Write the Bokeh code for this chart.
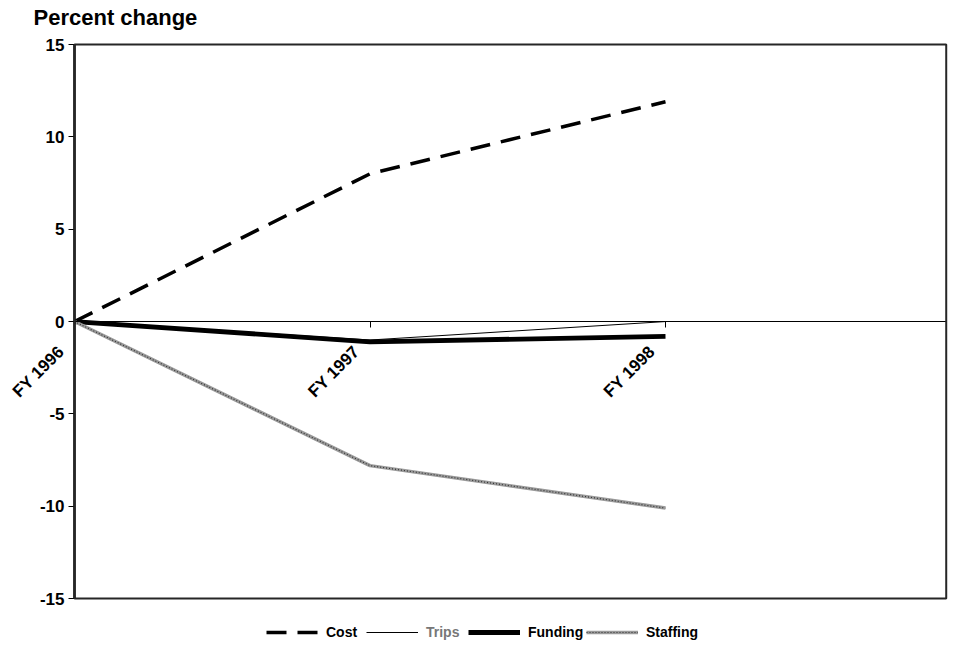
from math import pi
from bokeh.plotting import figure
from bokeh.models import (LinearAxis, FixedTicker, Range1d, Legend, LegendItem,
                          ColumnDataSource, BoxAnnotation)
from bokeh.embed import file_html
from bokeh.resources import INLINE

# ---- data ----
years = ["FY 1996", "FY 1997", "FY 1998"]
cost = [0.0, 8.0, 11.9]
trips = [0.0, -1.0, 0.0]
funding = [0.0, -1.1, -0.8]
staffing = [0.0, -7.8, -10.1]
y_ticks = [-15, -10, -5, 0, 5, 10, 15]

xs = list(range(len(years)))
src = ColumnDataSource(dict(x=xs, cost=cost, trips=trips, funding=funding, staffing=staffing))

FONT = "Liberation Sans"
W, H = 948, 642
TOP = 30
PXX = 295.5          # px per category
PXY = 18.47          # px per percent
X0 = 74              # px of first category from figure left
Y15 = 44             # px of +15 from figure top
x_start = -X0 / PXX
x_end = x_start + W / PXX
y_end = 15 + (Y15 - TOP) / PXY
y_start = y_end - (H - TOP) / PXY
x_box_right = 2.95
PAD = "\u00a0" * 4   # pushes the rotated label ends away from the tick, like the original

p = figure(width=W, height=H, output_backend="svg", toolbar_location=None,
           x_range=Range1d(x_start, x_end), y_range=Range1d(y_start, y_end),
           x_axis_type=None, y_axis_type=None,
           min_border_left=0, min_border_right=0, min_border_top=TOP, min_border_bottom=0)
p.grid.visible = False
p.outline_line_color = None
p.background_fill_color = "white"
p.border_fill_color = "white"

p.title.text = "Percent change"
p.title.text_font = FONT
p.title.text_font_size = "22px"
p.title.text_font_style = "bold"
p.title.text_color = "black"
p.title.align = "left"
p.title.offset = 33
p.title.standoff = 2

# plot-area box
p.add_layout(BoxAnnotation(left=0, right=x_box_right, bottom=y_ticks[0], top=y_ticks[-1],
                           fill_alpha=0, line_color="#262626", line_alpha=1, line_width=2))

# y axis at x = 0
yax = LinearAxis(ticker=FixedTicker(ticks=y_ticks), fixed_location=0,
                 bounds=(y_ticks[0], y_ticks[-1]))
yax.major_label_overrides = {t: str(t) for t in y_ticks}
yax.axis_line_width = 2.5
yax.axis_line_color = "black"
yax.major_tick_out = 6
yax.major_tick_in = 0
yax.minor_tick_out = 0
yax.minor_tick_in = 0
yax.major_tick_line_color = "black"
yax.major_label_text_font = FONT
yax.major_label_text_font_size = "17px"
yax.major_label_text_font_style = "bold"
yax.major_label_text_color = "black"
yax.major_label_standoff = 4
p.add_layout(yax, "left")

# x axis at y = 0
xax = LinearAxis(ticker=FixedTicker(ticks=xs), fixed_location=0, bounds=(0, x_box_right))
xax.major_label_overrides = {i: y + PAD for i, y in enumerate(years)}
xax.major_label_orientation = pi / 4
xax.axis_line_color = "black"
xax.axis_line_width = 1.2
xax.major_tick_out = 6
xax.major_tick_in = 0
xax.minor_tick_out = 0
xax.minor_tick_in = 0
xax.major_label_text_font = FONT
xax.major_label_text_font_size = "17px"
xax.major_label_text_font_style = "bold"
xax.major_label_text_color = "black"
xax.major_label_standoff = 8
p.add_layout(xax, "below")

r_cost = p.line("x", "cost", source=src, line_color="black", line_width=3.5, line_dash="20 11")
r_trips = p.line("x", "trips", source=src, line_color="black", line_width=1)
r_fund = p.line("x", "funding", source=src, line_color="black", line_width=4.8)
r_staff1 = p.line("x", "staffing", source=src, line_color="#9a9a9a", line_width=3.5)
r_staff2 = p.line("x", "staffing", source=src, line_color="#333333", line_width=1.2, line_dash="1 2")


def add_legend(label, renderers, xpos, color="black"):
    lg = Legend(items=[LegendItem(label=label, renderers=renderers)],
                orientation="horizontal", location=(xpos, 2))
    lg.label_text_font = FONT
    lg.label_text_font_size = "14px"
    lg.label_text_font_style = "bold"
    lg.label_text_color = color
    lg.glyph_width = 52
    lg.glyph_height = 16
    lg.label_standoff = 8
    lg.label_height = 16
    lg.border_line_color = None
    lg.background_fill_alpha = 0
    lg.padding = 0
    lg.margin = 0
    p.add_layout(lg, "center")


add_legend("Cost", [r_cost], 266)
add_legend("Trips", [r_trips], 366, color="#777777")
add_legend("Funding", [r_fund], 468)
add_legend("Staffing", [r_staff1, r_staff2], 586)

open("out.html", "w").write(file_html(p, INLINE))
